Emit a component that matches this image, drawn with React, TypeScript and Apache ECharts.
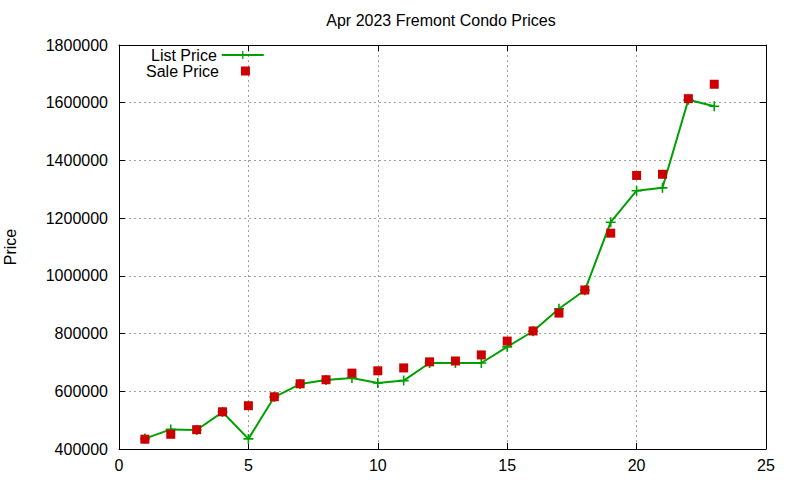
import * as React from "react";
import * as echarts from "echarts";
import { useEffect, useRef } from "react";

// day index within April 2023
const days = [1, 2, 3, 4, 5, 6, 7, 8, 9, 10, 11, 12, 13, 14, 15, 16, 17, 18, 19, 20, 21, 22, 23];
const listPrice = [
  436000, 468000, 466000, 528000, 435000, 580000, 625000, 639000, 646000, 629000, 637000, 698000,
  698000, 698000, 754000, 808000, 886000, 950000, 1186000, 1295000, 1305000, 1610000, 1588000,
];
const salePrice = [
  434000, 451000, 467000, 529000, 550000, 581000, 626000, 640000, 663000, 671000, 681000, 702000,
  705000, 726000, 774000, 809000, 871000, 951000, 1148000, 1348000, 1352000, 1614000, 1664000,
];

const GREEN = "#00a000";
const RED = "#cc0000";
const FONT = "Liberation Sans, Arial, sans-serif";
// plus sign marker, gnuplot style
const PLUS = "path://M4.2,0h1.6v4.2h4.2v1.6h-4.2v4.2h-1.6v-4.2h-4.2v-1.6h4.2z";

const App = () => {
  const chartRef = useRef<HTMLDivElement>(null);

  useEffect(() => {
    if (!chartRef.current) return;
    const myChart = echarts.init(chartRef.current, null, { renderer: "svg" });

    const gridLine = { show: true, lineStyle: { color: "#a0a0a0", type: [2, 3], width: 1 } };
    const tick = { show: true, inside: true, length: 6, lineStyle: { color: "#000" } };
    const border = { show: true, onZero: false, lineStyle: { color: "#000", width: 1 } };

    const option = {
      animation: false,
      textStyle: { fontFamily: FONT },
      title: {
        text: "Apr 2023 Fremont Condo Prices",
        left: 436,
        top: 7,
        textAlign: "center",
        textStyle: { fontSize: 16, fontWeight: "normal", color: "#000", fontFamily: FONT },
      },
      legend: [
        {
          data: ["List Price"],
          left: 146,
          top: 42,
          align: "right",
          itemWidth: 42,
          itemHeight: 10,
          textStyle: { fontSize: 16, color: "#000", fontFamily: FONT },
        },
        {
          data: ["Sale Price"],
          left: 141,
          top: 58,
          align: "right",
          itemWidth: 9,
          itemHeight: 9,
          textStyle: { fontSize: 16, color: "#000", fontFamily: FONT, padding: [0, 17, 0, 0] },
        },
      ],
      grid: { left: 119, right: 34, top: 45, bottom: 31, containLabel: false, outerBoundsMode: "none" },
      xAxis: [
        {
          type: "value",
          min: 0,
          max: 25,
          interval: 5,
          axisLine: border,
          axisTick: tick,
          splitLine: gridLine,
          axisLabel: { fontSize: 16, color: "#000", margin: 8, fontFamily: FONT },
        },
        {
          type: "value",
          position: "top",
          min: 0,
          max: 25,
          interval: 5,
          axisLine: border,
          axisTick: tick,
          splitLine: { show: false },
          axisLabel: { show: false },
        },
      ],
      yAxis: [
        {
          type: "value",
          min: 400000,
          max: 1800000,
          interval: 200000,
          name: "Price",
          nameLocation: "middle",
          nameGap: 101,
          nameTextStyle: { fontSize: 16, color: "#000", fontFamily: FONT },
          axisLine: border,
          axisTick: tick,
          splitLine: gridLine,
          axisLabel: {
            fontSize: 16,
            color: "#000",
            margin: 11,
            fontFamily: FONT,
            formatter: (v: number) => String(v),
          },
        },
        {
          type: "value",
          position: "right",
          min: 400000,
          max: 1800000,
          interval: 200000,
          axisLine: border,
          axisTick: tick,
          splitLine: { show: false },
          axisLabel: { show: false },
        },
      ],
      series: [
        {
          name: "List Price",
          type: "line",
          data: days.map((d, i) => [d, listPrice[i]]),
          symbol: PLUS,
          symbolSize: 10,
          showAllSymbol: true,
          lineStyle: { color: GREEN, width: 2 },
          itemStyle: { color: GREEN },
          z: 2,
        },
        {
          name: "Sale Price",
          type: "scatter",
          data: days.map((d, i) => [d, salePrice[i]]),
          symbol: "rect",
          symbolSize: 9,
          itemStyle: { color: RED, opacity: 1 },
          z: 3,
        },
      ],
    };

    myChart.setOption(option as any, true);

    return () => {
      myChart.dispose();
    };
  }, []);

  return (
    <div
      ref={chartRef}
      style={{ position: "fixed", left: 0, top: 0, width: 800, height: 480, background: "#fff" }}
    />
  );
};

export default App;
